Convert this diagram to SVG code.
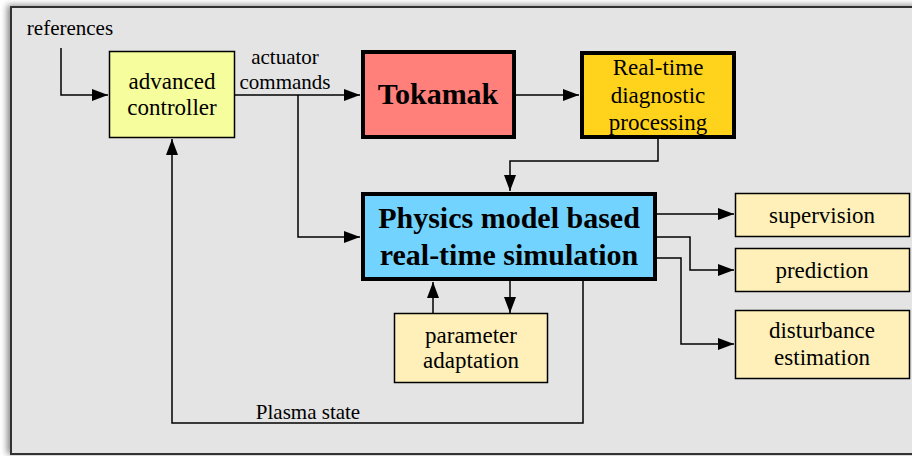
<svg xmlns="http://www.w3.org/2000/svg" width="912" height="456" viewBox="0 0 912 456">
<defs>
<marker id="ah" markerUnits="userSpaceOnUse" markerWidth="17" markerHeight="13" refX="16" refY="6" orient="auto">
<path d="M0,0 L16,6 L0,12 z" fill="#000"/>
</marker>
<filter id="sh" x="-5%" y="-5%" width="110%" height="110%">
<feDropShadow dx="-3" dy="-1" stdDeviation="3" flood-color="#000" flood-opacity="0.45"/>
</filter>
</defs>
<style>
.thin{stroke:#000;stroke-width:1.5}
.thick{stroke:#000;stroke-width:4}
.c{fill:none;stroke:#000;stroke-width:1.5}
</style>
<rect width="912" height="456" fill="#fff"/>
<rect x="11" y="7" width="910" height="447" fill="#e4e4e4" stroke="#333" stroke-width="2" filter="url(#sh)"/>
<g id="connectors">
<path class="c" d="M61,48 V95 H108" marker-end="url(#ah)"/>
<path class="c" d="M235,95 H360" marker-end="url(#ah)"/>
<path class="c" d="M298,95 V237 H360" marker-end="url(#ah)"/>
<path class="c" d="M516,95 H579" marker-end="url(#ah)"/>
<path class="c" d="M658,139 V161 H510 V191" marker-end="url(#ah)"/>
<path class="c" d="M657,214 H734" marker-end="url(#ah)"/>
<path class="c" d="M657,237 H690 V270 H734" marker-end="url(#ah)"/>
<path class="c" d="M657,258 H681 V344 H734" marker-end="url(#ah)"/>
<path class="c" d="M510,281 V313" marker-end="url(#ah)"/>
<path class="c" d="M433,313 V282" marker-end="url(#ah)"/>
<path class="c" d="M583,281 V423 H172 V139" marker-end="url(#ah)"/>
<text font-family="Liberation Serif, Times New Roman, serif" font-size="21" text-anchor="middle" x="70" y="35">references</text>
<text font-family="Liberation Serif, Times New Roman, serif" font-size="21" text-anchor="middle" x="285" y="64">actuator</text>
<text font-family="Liberation Serif, Times New Roman, serif" font-size="21" text-anchor="middle" x="285" y="89">commands</text>
<text font-family="Liberation Serif, Times New Roman, serif" font-size="21" text-anchor="middle" x="308" y="419">Plasma state</text>
</g>
<g id="controller">
<rect class="thin" x="109.5" y="51.5" width="125" height="86" fill="#f5fd9c"/>
<text font-family="Times New Roman, Liberation Serif, serif" font-size="23" text-anchor="middle" x="172" y="89">advanced</text>
<text font-family="Times New Roman, Liberation Serif, serif" font-size="23" text-anchor="middle" x="172" y="115">controller</text>
</g>
<g id="tokamak">
<rect class="thick" x="363" y="52" width="151" height="85" fill="#ff7f7b"/>
<text font-family="Liberation Serif, Times New Roman, serif" font-size="30" font-weight="bold" text-anchor="middle" x="438" y="104">Tokamak</text>
</g>
<g id="diagnostic">
<rect class="thick" x="582" y="53" width="152" height="84" fill="#ffd31c"/>
<text font-family="Times New Roman, Liberation Serif, serif" font-size="23" text-anchor="middle" x="658" y="75">Real-time</text>
<text font-family="Times New Roman, Liberation Serif, serif" font-size="23" text-anchor="middle" x="658" y="103">diagnostic</text>
<text font-family="Times New Roman, Liberation Serif, serif" font-size="23" text-anchor="middle" x="658" y="130">processing</text>
</g>
<g id="simulation">
<rect class="thick" x="363" y="194" width="292" height="85" fill="#72d4fe"/>
<text font-family="Liberation Serif, Times New Roman, serif" font-size="30" font-weight="bold" text-anchor="middle" x="509" y="228">Physics model based</text>
<text font-family="Liberation Serif, Times New Roman, serif" font-size="30" font-weight="bold" text-anchor="middle" x="509" y="265">real-time simulation</text>
</g>
<g id="supervision">
<rect class="thin" x="735.5" y="193.5" width="174" height="43" fill="#fff0b9"/>
<text font-family="Times New Roman, Liberation Serif, serif" font-size="23" text-anchor="middle" x="822" y="223">supervision</text>
</g>
<g id="prediction">
<rect class="thin" x="735.5" y="248.5" width="174" height="43" fill="#fff0b9"/>
<text font-family="Times New Roman, Liberation Serif, serif" font-size="23" text-anchor="middle" x="822" y="278">prediction</text>
</g>
<g id="disturbance">
<rect class="thin" x="735.5" y="310.5" width="174" height="68" fill="#fff0b9"/>
<text font-family="Times New Roman, Liberation Serif, serif" font-size="23" text-anchor="middle" x="822" y="338">disturbance</text>
<text font-family="Times New Roman, Liberation Serif, serif" font-size="23" text-anchor="middle" x="822" y="365">estimation</text>
</g>
<g id="parameter">
<rect class="thin" x="394.5" y="313.5" width="153" height="69" fill="#fff0b9"/>
<text font-family="Times New Roman, Liberation Serif, serif" font-size="23" text-anchor="middle" x="471" y="343">parameter</text>
<text font-family="Times New Roman, Liberation Serif, serif" font-size="23" text-anchor="middle" x="471" y="368">adaptation</text>
</g>
</svg>
